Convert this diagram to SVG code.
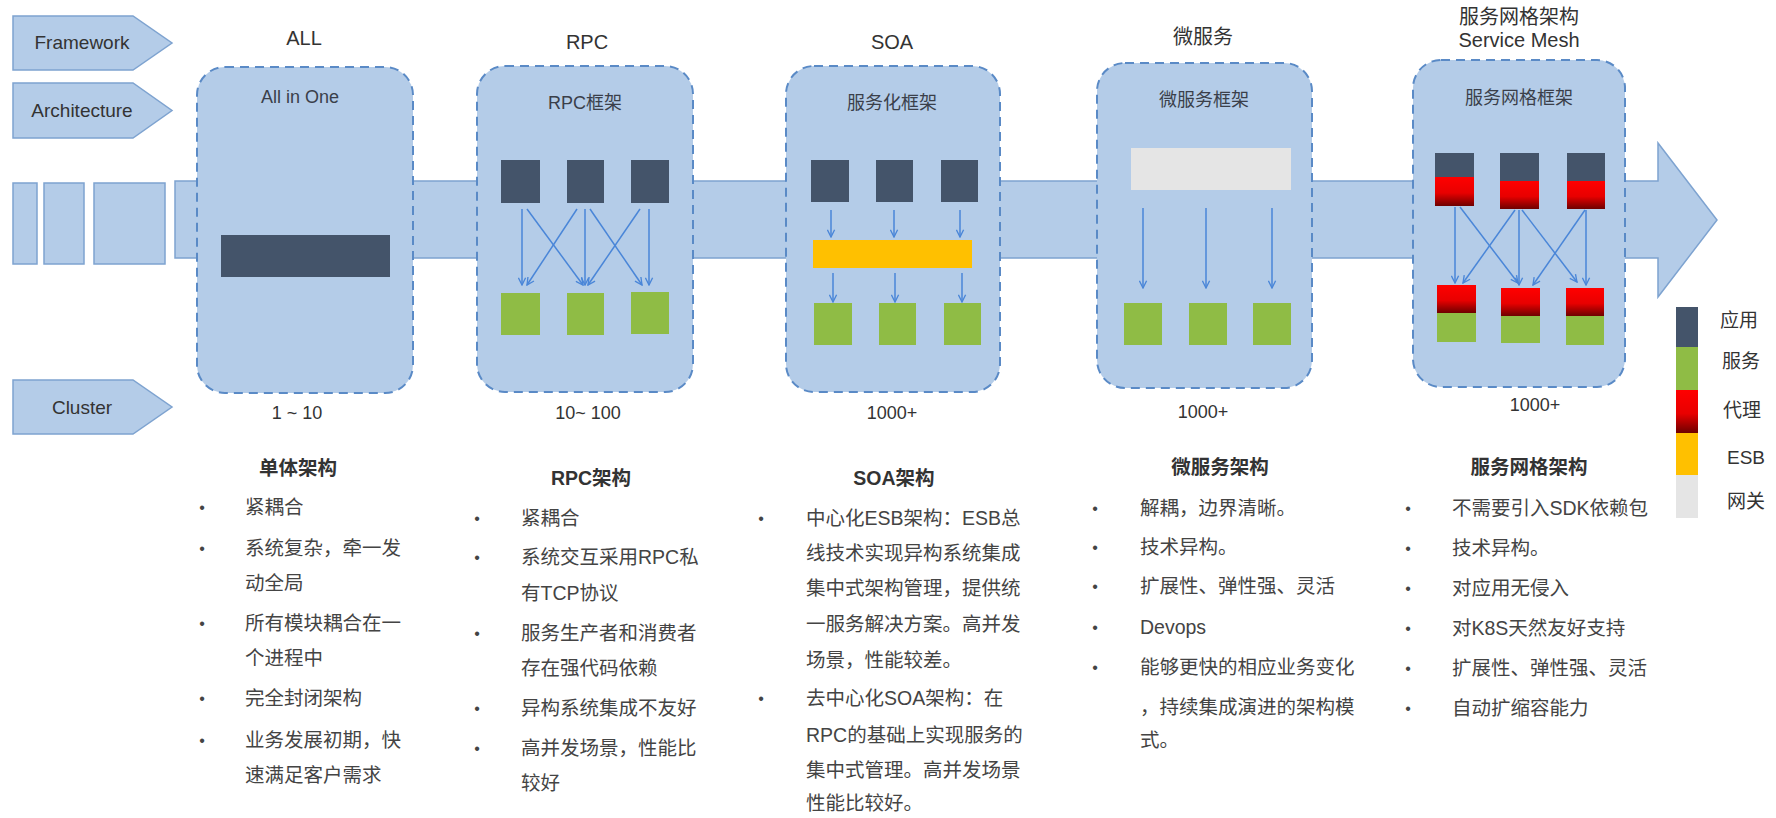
<svg xmlns="http://www.w3.org/2000/svg" width="1776" height="818" viewBox="0 0 1776 818">
<defs>
<style>
.t{font-family:"Liberation Sans","Noto Sans CJK SC",sans-serif;fill:#333}
.title{font-size:20px;text-anchor:middle}
.lbl{font-size:18px;text-anchor:middle;fill:#3a3f4a}
.cnt{font-size:18px;text-anchor:middle}
.hd{font-size:19.5px;font-weight:bold;text-anchor:middle;fill:#333}
.li{font-size:19.5px;fill:#444}
.bu{font-size:16px;fill:#444;text-anchor:middle}
.side{font-size:19px;text-anchor:middle;fill:#333}
.pent{fill:#b4cce8;stroke:#7ea3d0;stroke-width:1.5}
.box{fill:#b4cce8;stroke:#5a8ac6;stroke-width:2;stroke-dasharray:9 6}
.app{fill:#44546a}
.svc{fill:#8fbc45}
.px{fill:url(#red)}
.esb{fill:#ffc000}
.gw{fill:#e5e5e5}
.ar{stroke:#4a86d8;stroke-width:1.5;fill:none;marker-end:url(#ah)}
.leg{font-size:19px;fill:#333}
</style>
<linearGradient id="red" x1="0" y1="0" x2="0" y2="1">
<stop offset="0" stop-color="#ff0000"/>
<stop offset="0.55" stop-color="#e80000"/>
<stop offset="1" stop-color="#6e0000"/>
</linearGradient>
<marker id="ah" viewBox="0 0 10 10" refX="9" refY="5" markerWidth="9" markerHeight="9" markerUnits="userSpaceOnUse" orient="auto">
<path d="M1,1 L9,5 L1,9" fill="none" stroke="#4a86d8" stroke-width="1.5"/>
</marker>
</defs>
<rect width="1776" height="818" fill="#ffffff"/>

<g id="side-labels">
<g id="framework"><polygon class="pent" points="13,16 133,16 172,43 133,70 13,70"/><text class="t side" x="82" y="49">Framework</text></g>
<g id="architecture"><polygon class="pent" points="13,83 133,83 172,110.5 133,138 13,138"/><text class="t side" x="82" y="117">Architecture</text></g>
<g id="cluster"><polygon class="pent" points="13,380 133,380 172,407 133,434 13,434"/><text class="t side" x="82" y="414">Cluster</text></g>
</g>

<g id="band">
<rect class="pent" x="13" y="183" width="24" height="81"/>
<rect class="pent" x="44" y="183" width="40" height="81"/>
<rect class="pent" x="94" y="183" width="71" height="81"/>
<polygon class="pent" points="175,181 1658,181 1658,143 1717,220 1658,297 1658,258 175,258"/>
</g>

<g id="all">
<text class="t title" x="304" y="45">ALL</text>
<rect class="box" x="197" y="67" width="216" height="326" rx="28"/>
<text class="t lbl" x="300" y="103">All in One</text>
<rect class="app" x="221" y="235" width="169" height="42"/>
<text class="t cnt" x="297" y="419">1 ~ 10</text>
</g>

<g id="rpc">
<text class="t title" x="587" y="49">RPC</text>
<rect class="box" x="477" y="66" width="216" height="326" rx="28"/>
<text class="t lbl" x="585" y="109">RPC框架</text>
<rect class="app" x="501" y="160" width="39" height="43"/>
<rect class="app" x="567" y="160" width="37" height="43"/>
<rect class="app" x="631" y="160" width="38" height="43"/>
<rect class="svc" x="501" y="293" width="39" height="42"/>
<rect class="svc" x="567" y="293" width="37" height="42"/>
<rect class="svc" x="631" y="292" width="38" height="42"/>
<text class="t cnt" x="588" y="419">10~ 100</text>
</g>

<g id="soa">
<text class="t title" x="892" y="49">SOA</text>
<rect class="box" x="786" y="66" width="214" height="326" rx="28"/>
<text class="t lbl" x="892" y="109">服务化框架</text>
<rect class="app" x="811" y="160" width="38" height="42"/>
<rect class="app" x="876" y="160" width="37" height="42"/>
<rect class="app" x="941" y="160" width="37" height="42"/>
<rect class="esb" x="813" y="240" width="159" height="28"/>
<rect class="svc" x="814" y="303" width="38" height="42"/>
<rect class="svc" x="879" y="303" width="37" height="42"/>
<rect class="svc" x="944" y="303" width="37" height="42"/>
<text class="t cnt" x="892" y="419">1000+</text>
</g>

<g id="microservice">
<text class="t title" x="1203" y="44">微服务</text>
<rect class="box" x="1097" y="63" width="215" height="325" rx="28"/>
<text class="t lbl" x="1204" y="106">微服务框架</text>
<rect class="gw" x="1131" y="148" width="160" height="42"/>
<rect class="svc" x="1124" y="303" width="38" height="42"/>
<rect class="svc" x="1189" y="303" width="38" height="42"/>
<rect class="svc" x="1253" y="303" width="38" height="42"/>
<text class="t cnt" x="1203" y="418">1000+</text>
</g>

<g id="servicemesh">
<text class="t title" x="1519" y="24">服务网格架构</text>
<text class="t title" x="1519" y="47">Service Mesh</text>
<rect class="box" x="1413" y="60" width="212" height="327" rx="28"/>
<text class="t lbl" x="1519" y="104">服务网格框架</text>
<rect class="app" x="1435" y="153" width="39" height="24"/>
<rect class="px" x="1435" y="177" width="39" height="29"/>
<rect class="app" x="1500" y="153" width="39" height="29"/>
<rect class="px" x="1500" y="181" width="39" height="28"/>
<rect class="app" x="1567" y="153" width="38" height="29"/>
<rect class="px" x="1567" y="181" width="38" height="28"/>
<rect class="px" x="1437" y="285" width="39" height="28"/>
<rect class="svc" x="1437" y="313" width="39" height="29"/>
<rect class="px" x="1501" y="288" width="39" height="28"/>
<rect class="svc" x="1501" y="316" width="39" height="27"/>
<rect class="px" x="1566" y="288" width="38" height="28"/>
<rect class="svc" x="1566" y="316" width="38" height="29"/>
<text class="t cnt" x="1535" y="411">1000+</text>
</g>

<g id="connectors">
<line class="ar" x1="522" y1="209" x2="522" y2="285"/>
<line class="ar" x1="527" y1="209" x2="583" y2="285"/>
<line class="ar" x1="577" y1="209" x2="527" y2="285"/>
<line class="ar" x1="585" y1="209" x2="585" y2="285"/>
<line class="ar" x1="590" y1="209" x2="642" y2="285"/>
<line class="ar" x1="640" y1="209" x2="588" y2="285"/>
<line class="ar" x1="649" y1="209" x2="649" y2="285"/>
<line class="ar" x1="831" y1="210" x2="831" y2="237"/>
<line class="ar" x1="894" y1="210" x2="894" y2="237"/>
<line class="ar" x1="960" y1="210" x2="960" y2="237"/>
<line class="ar" x1="833" y1="273" x2="833" y2="302"/>
<line class="ar" x1="895" y1="273" x2="895" y2="302"/>
<line class="ar" x1="962" y1="273" x2="962" y2="302"/>
<line class="ar" x1="1143" y1="208" x2="1143" y2="288"/>
<line class="ar" x1="1206" y1="208" x2="1206" y2="288"/>
<line class="ar" x1="1272" y1="208" x2="1272" y2="288"/>
<line class="ar" x1="1455" y1="207" x2="1455" y2="283"/>
<line class="ar" x1="1460" y1="207" x2="1518" y2="283"/>
<line class="ar" x1="1515" y1="210" x2="1463" y2="283"/>
<line class="ar" x1="1519" y1="210" x2="1519" y2="285"/>
<line class="ar" x1="1522" y1="210" x2="1577" y2="282"/>
<line class="ar" x1="1585" y1="210" x2="1533" y2="285"/>
<line class="ar" x1="1586" y1="210" x2="1586" y2="285"/>
</g>

<g id="legend">
<rect class="app" x="1676" y="307" width="22" height="40"/>
<rect class="svc" x="1676" y="347" width="22" height="43"/>
<rect fill="url(#red)" x="1676" y="390" width="22" height="43"/>
<rect class="esb" x="1676" y="433" width="22" height="42"/>
<rect class="gw" x="1676" y="475" width="22" height="43"/>
<text class="t leg" x="1720" y="327">应用</text>
<text class="t leg" x="1722" y="368">服务</text>
<text class="t leg" x="1723" y="417">代理</text>
<text class="t leg" x="1727" y="464">ESB</text>
<text class="t leg" x="1727" y="508">网关</text>
</g>

<g id="col-monolith">
<text class="t hd" x="298" y="475">单体架构</text>
<text class="t bu" x="202" y="513">•</text><text class="t li" x="245" y="514">紧耦合</text>
<text class="t bu" x="202" y="554">•</text><text class="t li" x="245" y="555">系统复杂，牵一发</text>
<text class="t li" x="245" y="590">动全局</text>
<text class="t bu" x="202" y="629">•</text><text class="t li" x="245" y="630">所有模块耦合在一</text>
<text class="t li" x="245" y="665">个进程中</text>
<text class="t bu" x="202" y="704">•</text><text class="t li" x="245" y="705">完全封闭架构</text>
<text class="t bu" x="202" y="746">•</text><text class="t li" x="245" y="747">业务发展初期，快</text>
<text class="t li" x="245" y="782">速满足客户需求</text>
</g>

<g id="col-rpc">
<text class="t hd" x="591" y="485">RPC架构</text>
<text class="t bu" x="477" y="524">•</text><text class="t li" x="521" y="525">紧耦合</text>
<text class="t bu" x="477" y="563">•</text><text class="t li" x="521" y="564">系统交互采用RPC私</text>
<text class="t li" x="521" y="600">有TCP协议</text>
<text class="t bu" x="477" y="639">•</text><text class="t li" x="521" y="640">服务生产者和消费者</text>
<text class="t li" x="521" y="675">存在强代码依赖</text>
<text class="t bu" x="477" y="714">•</text><text class="t li" x="521" y="715">异构系统集成不友好</text>
<text class="t bu" x="477" y="754">•</text><text class="t li" x="521" y="755">高并发场景，性能比</text>
<text class="t li" x="521" y="790">较好</text>
</g>

<g id="col-soa">
<text class="t hd" x="894" y="485">SOA架构</text>
<text class="t bu" x="761" y="524">•</text><text class="t li" x="806" y="525">中心化ESB架构：ESB总</text>
<text class="t li" x="806" y="560">线技术实现异构系统集成</text>
<text class="t li" x="806" y="595">集中式架构管理，提供统</text>
<text class="t li" x="806" y="631">一服务解决方案。高并发</text>
<text class="t li" x="806" y="667">场景，性能较差。</text>
<text class="t bu" x="761" y="704">•</text><text class="t li" x="806" y="705">去中心化SOA架构：在</text>
<text class="t li" x="806" y="742">RPC的基础上实现服务的</text>
<text class="t li" x="806" y="777">集中式管理。高并发场景</text>
<text class="t li" x="806" y="810">性能比较好。</text>
</g>

<g id="col-micro">
<text class="t hd" x="1220" y="474">微服务架构</text>
<text class="t bu" x="1095" y="514">•</text><text class="t li" x="1140" y="515">解耦，边界清晰。</text>
<text class="t bu" x="1095" y="553">•</text><text class="t li" x="1140" y="554">技术异构。</text>
<text class="t bu" x="1095" y="592">•</text><text class="t li" x="1140" y="593">扩展性、弹性强、灵活</text>
<text class="t bu" x="1095" y="633">•</text><text class="t li" x="1140" y="634">Devops</text>
<text class="t bu" x="1095" y="673">•</text><text class="t li" x="1140" y="674">能够更快的相应业务变化</text>
<text class="t li" x="1140" y="714">，持续集成演进的架构模</text>
<text class="t li" x="1140" y="747">式。</text>
</g>

<g id="col-mesh">
<text class="t hd" x="1529" y="474">服务网格架构</text>
<text class="t bu" x="1408" y="514">•</text><text class="t li" x="1452" y="515">不需要引入SDK依赖包</text>
<text class="t bu" x="1408" y="554">•</text><text class="t li" x="1452" y="555">技术异构。</text>
<text class="t bu" x="1408" y="594">•</text><text class="t li" x="1452" y="595">对应用无侵入</text>
<text class="t bu" x="1408" y="634">•</text><text class="t li" x="1452" y="635">对K8S天然友好支持</text>
<text class="t bu" x="1408" y="674">•</text><text class="t li" x="1452" y="675">扩展性、弹性强、灵活</text>
<text class="t bu" x="1408" y="714">•</text><text class="t li" x="1452" y="715">自动扩缩容能力</text>
</g>
</svg>
